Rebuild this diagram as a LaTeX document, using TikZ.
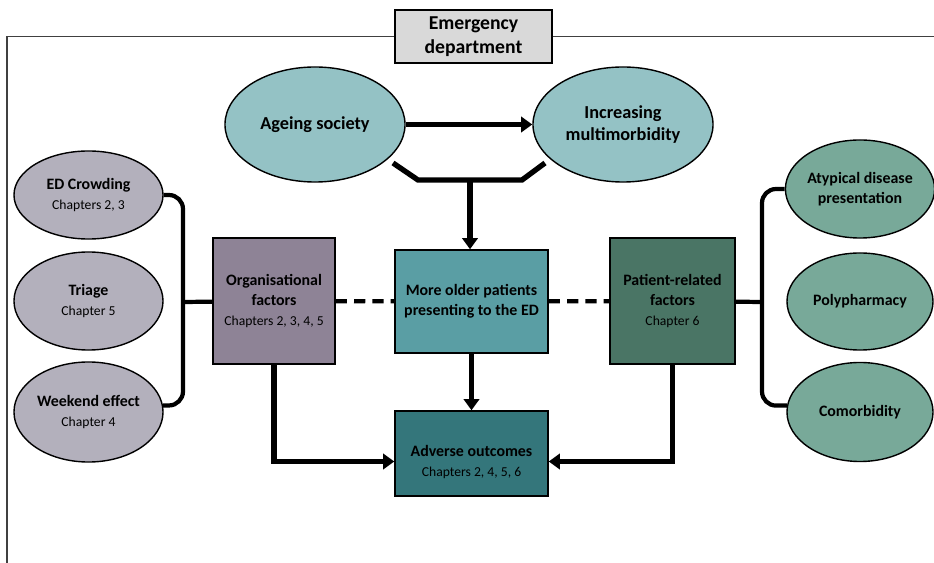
\documentclass[tikz,border=0pt]{standalone}
\usepackage{fontspec}
\setmainfont{Carlito}
\usetikzlibrary{shapes.geometric,arrows.meta,calc}

\definecolor{edgray}{HTML}{D9D9D9}
\definecolor{topcol}{HTML}{94C2C5}
\definecolor{leftcol}{HTML}{B3B0BC}
\definecolor{rightcol}{HTML}{78A999}
\definecolor{orgcol}{HTML}{8E8396}
\definecolor{oldcol}{HTML}{5A9EA4}
\definecolor{patcol}{HTML}{4A7565}
\definecolor{advcol}{HTML}{34767B}

\newcommand{\chap}[1]{{\fontsize{9.7}{12}\selectfont\mdseries #1}}

\begin{document}
\begin{tikzpicture}[x=0.025cm,y=-0.025cm,
	ell/.style={ellipse,draw,line width=1pt,inner sep=0pt,align=center,font=\fontsize{11.3}{14}\selectfont\bfseries},
	topell/.style={ell,fill=topcol,minimum width=4.5cm,minimum height=2.875cm,font=\fontsize{13}{15.5}\selectfont\bfseries},
	sqbox/.style={rectangle,draw,line width=1pt,inner sep=2pt,align=center,font=\fontsize{11.3}{14}\selectfont\bfseries},
	conn/.style={line width=3.8pt},
	arr/.style={conn,-{Triangle[length=8pt,width=11pt]}},
	brk/.style={line width=3pt,rounded corners=10pt},
	dsh/.style={line width=3pt,dash pattern=on 8pt off 5pt},
	frame/.style={line width=1.1pt,draw=black!75}]

	\useasboundingbox (0,0) rectangle (934,563);

	\node (ed) at (473.5,36.5) [rectangle,draw,line width=1.6pt,fill=edgray,minimum width=3.925cm,minimum height=1.325cm,align=center,font=\fontsize{14}{17.5}\selectfont\bfseries] {Emergency\\department};
	\draw[frame] (7,563) -- (7,36.5) -- (ed.west);
	\draw[frame] (ed.east) -- (934,36.5);

	\node (age) at (315,124.5) [topell] {Ageing society};
	\node (multi) at (623,124.5) [topell] {Increasing\\multimorbidity};

	\node (crowd) at (88.5,195) [ell,fill=leftcol,minimum width=3.725cm,minimum height=2.2cm] {ED Crowding\\\chap{Chapters 2, 3}};
	\node (triage) at (88.5,301) [ell,fill=leftcol,minimum width=3.725cm,minimum height=2.45cm] {Triage\\\chap{Chapter 5}};
	\node (weekend) at (88.5,412) [ell,fill=leftcol,minimum width=3.725cm,minimum height=2.5cm] {Weekend effect\\\chap{Chapter 4}};

	\node (atyp) at (860,189) [ell,fill=rightcol,minimum width=3.65cm,minimum height=2.45cm] {Atypical disease\\presentation};
	\node (poly) at (860,301.5) [ell,fill=rightcol,minimum width=3.65cm,minimum height=2.425cm] {Polypharmacy};
	\node (comorb) at (860,412) [ell,fill=rightcol,minimum width=3.65cm,minimum height=2.475cm] {Comorbidity};

	\node (org) at (274,301) [sqbox,fill=orgcol,minimum width=3.05cm,minimum height=3.15cm] {Organisational\\factors\\\chap{Chapters 2, 3, 4, 5}};
	\node (older) at (471.5,301.5) [sqbox,fill=oldcol,minimum width=3.825cm,minimum height=2.575cm] {More older patients\\presenting to the ED};
	\node (pat) at (672.5,301) [sqbox,fill=patcol,minimum width=3.125cm,minimum height=3.15cm] {Patient-related\\factors\\\chap{Chapter 6}};
	\node (adv) at (471.5,453.5) [sqbox,fill=advcol,minimum width=3.825cm,minimum height=2.125cm] {\rule{0pt}{20pt}Adverse outcomes\\\chap{Chapters 2, 4, 5, 6}};

	\draw[arr] (age) -- (multi);

	\coordinate (bl) at (393,163);
	\coordinate (br) at (545,163);
	\coordinate (bj) at (470,180);
	\draw[conn] (bl) -- ($(bj)+(-52,0)$) -- ($(bj)+(52,0)$) -- (br);
	\draw[arr] (bj) -- (bj |- older.north);

	\coordinate (lf) at (183,302);
	\coordinate (rf) at (762,302);
	\draw[brk] (crowd.east) -| (lf) |- (weekend.5);
	\draw[brk] (lf) -- (org);
	\draw[brk] (atyp.west) -| (rf) |- (comorb.175);
	\draw[brk] (rf) -- (pat);

	\draw[dsh] (org) -- (older);
	\draw[dsh] (older) -- (pat);

	\draw[arr] (older) -- (adv);
	\draw[arr] (org) |- ($(adv.west)+(0,8)$);
	\draw[arr] (pat) |- ($(adv.east)+(0,8)$);

\end{tikzpicture}
\end{document}
